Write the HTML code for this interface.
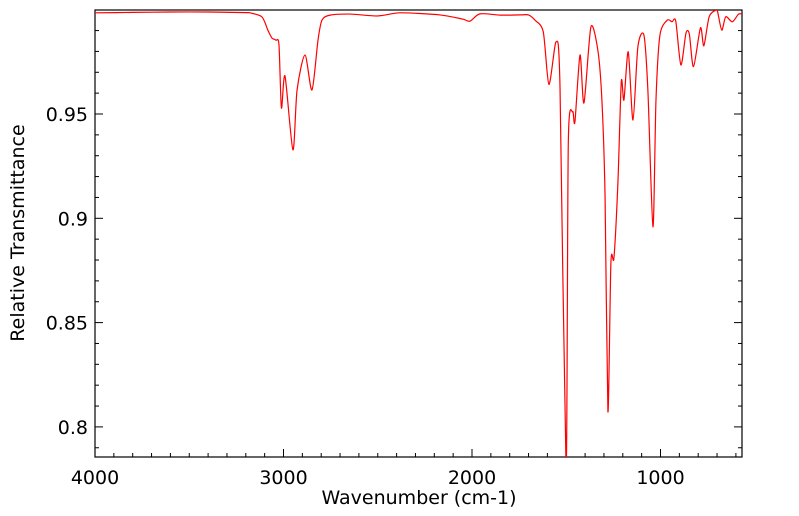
<!DOCTYPE html>
<html><head><meta charset="utf-8"><style>
html,body{margin:0;padding:0;background:#fff;}
svg{display:block;font-family:"DejaVu Sans","Liberation Sans",sans-serif;}
</style></head><body>
<svg id="chart" width="799" height="516">
<defs><clipPath id="plotclip"><rect x="95" y="10" width="647" height="447"/></clipPath></defs>
<rect x="95" y="10" width="647" height="447" fill="#fff" stroke="#000" stroke-width="1.2"/>
<g id="ticks"></g>
<path id="spectrum" fill="none" stroke="#ff0000" stroke-width="1.2" clip-path="url(#plotclip)"/>
<text x="419" y="504" text-anchor="middle" font-size="19">Wavenumber (cm-1)</text>
<text transform="translate(24,233) rotate(-90)" text-anchor="middle" font-size="19">Relative Transmittance</text>
</svg>
<script>
const wavenumbers = [4000,3800,3600,3400,3200,3178,3114,3082,3061,3040,3024,3011,2992,2950,2928,2886,2849,2817,2796,2753,2647,2500,2382,2170,2050,2011,1958,1851,1745,1700,1666,1622,1592,1554,1533,1501,1489,1466,1454,1427,1406,1369,1331,1310,1294,1279,1263,1247,1226,1208,1194,1171,1146,1120,1088,1067,1040,1024,1003,964,939,919,892,865,847,825,788,770,742,706,697,675,654,619,587,568];
const transmittance = [0.9985,0.9987,0.9989,0.9989,0.9986,0.9985,0.9965,0.99,0.9864,0.9854,0.9831,0.9529,0.9682,0.9328,0.9615,0.9783,0.9615,0.9854,0.995,0.9974,0.9979,0.997,0.9985,0.9975,0.9955,0.9945,0.998,0.9974,0.9975,0.9975,0.995,0.9894,0.9642,0.9846,0.9625,0.78,0.9367,0.9511,0.9462,0.9783,0.9553,0.9918,0.9797,0.955,0.91,0.8073,0.879,0.881,0.9169,0.9655,0.9567,0.9798,0.9471,0.9822,0.9878,0.9615,0.8959,0.9567,0.9878,0.995,0.9942,0.9945,0.9735,0.9887,0.9883,0.9727,0.9913,0.9827,0.9966,0.9998,0.999,0.9902,0.9966,0.9942,0.9978,0.998];
const xTickLabels = [4000,3000,2000,1000];
const yTickLabels = [0.8,0.85,0.9,0.95];
const yTickText = ["0.8","0.85","0.9","0.95"];

const X0=95,X1=742,Y0=10,Y1=457;
function xs(w){ return 283.5 + (3000 - w) * 0.1885; }
function ys(t){ return 114 + (0.95 - t) / 0.05 * 104.3; }

const NS="http://www.w3.org/2000/svg";
const pts=wavenumbers.map((w,i)=>[xs(w),ys(transmittance[i])]);
let d='M'+pts[0][0].toFixed(2)+','+pts[0][1].toFixed(2);
for(let i=0;i<pts.length-1;i++){
  const p0=pts[Math.max(0,i-1)],p1=pts[i],p2=pts[i+1],p3=pts[Math.min(pts.length-1,i+2)];
  const k=1/6*0.8;
  const c1=[p1[0]+(p2[0]-p0[0])*k,p1[1]+(p2[1]-p0[1])*k];
  const c2=[p2[0]-(p3[0]-p1[0])*k,p2[1]-(p3[1]-p1[1])*k];
  d+=' C'+c1[0].toFixed(2)+','+c1[1].toFixed(2)+' '+c2[0].toFixed(2)+','+c2[1].toFixed(2)+' '+p2[0].toFixed(2)+','+p2[1].toFixed(2);
}
document.getElementById('spectrum').setAttribute('d',d);
const g=document.getElementById('ticks');
function mk(tag,attrs){const e=document.createElementNS(NS,tag);for(const k in attrs)e.setAttribute(k,attrs[k]);g.appendChild(e);return e;}
for(let w=4000; w>=600; w-=100){
  const x=xs(w); const major = w%1000===0;
  const t=mk('line',{x1:x,x2:x,y1:Y1,y2:Y1-(major?8:4),stroke:'#000','stroke-width':1});
  
  
}
xTickLabels.forEach(v=>{
  const t=mk('text',{x:xs(v),y:484,'text-anchor':'middle','font-size':19});
  t.textContent=v;
  
  
});
for(let k=79;k<=99;k++){
  const v=k/100; const y=ys(v); if(y<Y0||y>Y1) continue;
  const major = k%5===0;
  const t=mk('line',{x1:X0,x2:X0+(major?8:4),y1:y,y2:y,stroke:'#000','stroke-width':1});
  
  
  const t2=mk('line',{x1:X1,x2:X1-(major?8:4),y1:y,y2:y,stroke:'#000','stroke-width':1});
  
  
}
yTickLabels.forEach((v,i)=>{
  const t=mk('text',{x:88,y:ys(v)+7,'text-anchor':'end','font-size':19});
  t.textContent=yTickText[i];
  
  
});
</script>
</body></html>
